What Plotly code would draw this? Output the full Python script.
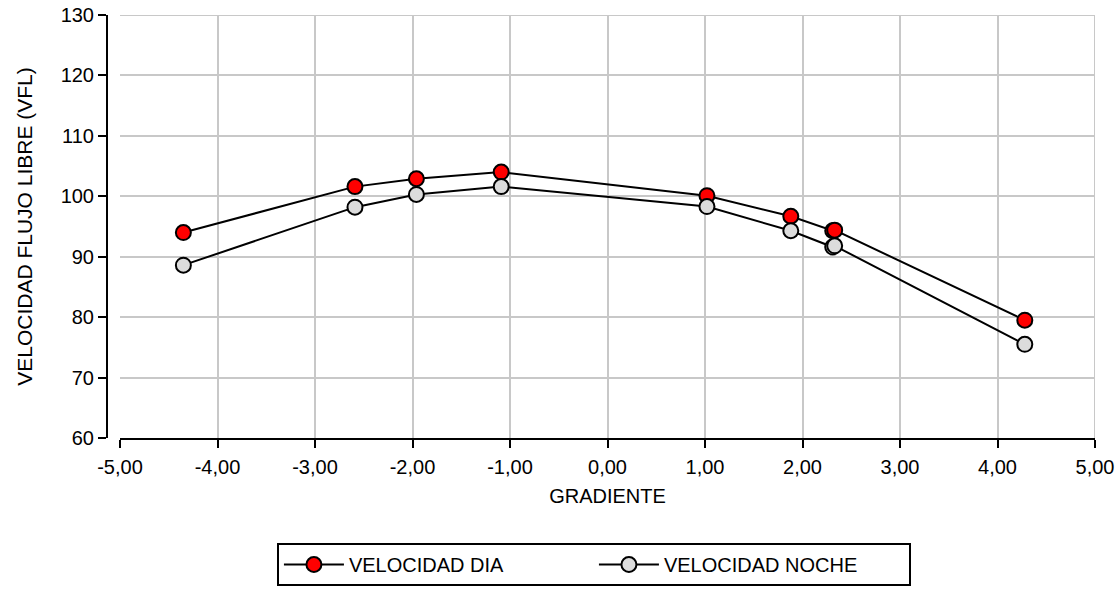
import plotly.graph_objects as go

gradiente = [-4.35, -2.59, -1.96, -1.09, 1.02, 1.88, 2.31, 2.33, 4.28]
vel_dia = [94.0, 101.6, 102.9, 104.0, 100.1, 96.7, 94.3, 94.4, 79.5]
vel_noche = [88.6, 98.2, 100.3, 101.6, 98.3, 94.3, 91.6, 91.8, 75.5]

x_ticks = [-5, -4, -3, -2, -1, 0, 1, 2, 3, 4, 5]
x_tick_text = ["-5,00", "-4,00", "-3,00", "-2,00", "-1,00", "0,00",
               "1,00", "2,00", "3,00", "4,00", "5,00"]
y_ticks = [60, 70, 80, 90, 100, 110, 120, 130]

FONT = "Liberation Sans, Arial, sans-serif"

fig = go.Figure()
fig.add_trace(go.Scatter(
    x=gradiente, y=vel_dia, name="VELOCIDAD DIA", mode="lines+markers",
    line=dict(color="black", width=2),
    marker=dict(symbol="circle", size=15, color="#FF0000", line=dict(color="black", width=2)),
))
fig.add_trace(go.Scatter(
    x=gradiente, y=vel_noche, name="VELOCIDAD NOCHE", mode="lines+markers",
    line=dict(color="black", width=2),
    marker=dict(symbol="circle", size=15, color="#DCDCDC", line=dict(color="black", width=2)),
))

fig.update_layout(
    width=1120, height=590,
    margin=dict(l=107, r=25, t=15, b=152, autoexpand=False),
    paper_bgcolor="white", plot_bgcolor="white",
    font=dict(family=FONT, size=20, color="black"),
    showlegend=True,
    legend=dict(
        orientation="h", x=0.172, xanchor="left", y=-0.2482, yanchor="top",
        bordercolor="black", borderwidth=2, bgcolor="white",
        font=dict(family=FONT, size=20, color="black"),
        entrywidth=240, itemwidth=60,
    ),
    xaxis=dict(
        domain=[0.01316, 1], range=[-5, 5], anchor="y",
        tickmode="array", tickvals=x_ticks, ticktext=x_tick_text,
        ticks="outside", ticklen=8, tickwidth=2, tickcolor="black",
        ticklabelstandoff=2,
        showline=True, linecolor="black", linewidth=2,
        showgrid=True, gridcolor="#C8C8C8", gridwidth=2,
        zeroline=False, automargin=False,
        title=dict(text="GRADIENTE", font=dict(family=FONT, size=20), standoff=12),
        tickfont=dict(family=FONT, size=20),
    ),
    yaxis=dict(
        domain=[0, 1], range=[60, 130], anchor="free", position=0,
        tickmode="array", tickvals=y_ticks,
        ticks="outside", ticklen=8, tickwidth=2, tickcolor="black",
        showline=True, linecolor="black", linewidth=2,
        showgrid=True, gridcolor="#C8C8C8", gridwidth=2,
        zeroline=False, automargin=False,
        title=dict(text="VELOCIDAD FLUJO LIBRE (VFL)", font=dict(family=FONT, size=21), standoff=21),
        tickfont=dict(family=FONT, size=20),
    ),
)

fig.add_shape(type="line", xref="x", yref="y", x0=5, x1=5, y0=60, y1=130,
              line=dict(color="#C8C8C8", width=2), layer="below")
fig.add_shape(type="line", xref="x", yref="y", x0=-5, x1=5, y0=130, y1=130,
              line=dict(color="#C8C8C8", width=2), layer="below")

fig.write_html("out.html", config={"displayModeBar": False},
               post_script="document.body.style.margin='0';")
